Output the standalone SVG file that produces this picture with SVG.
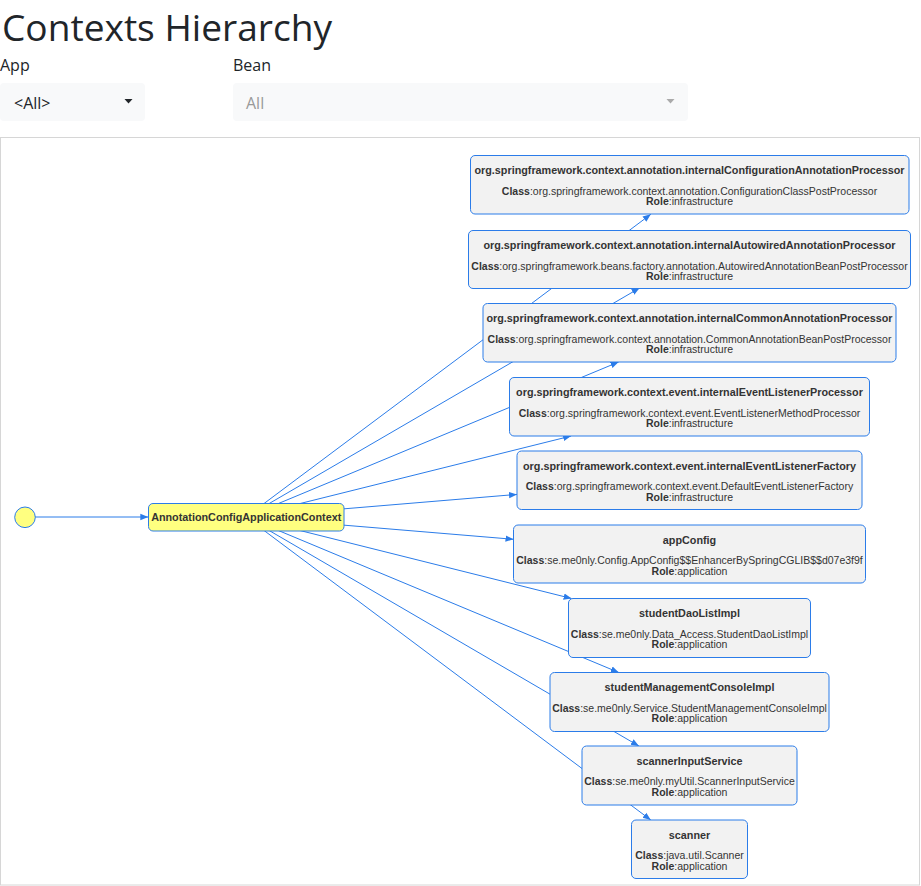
<svg xmlns="http://www.w3.org/2000/svg" width="921" height="886" viewBox="0 0 921 886">
<defs>
<style>
.hdr{font-family:"Open Sans","Noto Sans","Liberation Sans",sans-serif;fill:#212529}
.sel{fill:#f8f9fa;stroke:none}
.node rect{fill:#f2f2f2;stroke:#2b7ce9;stroke-width:1}
.root rect,.root circle{fill:#ffff80;stroke:#2b7ce9;stroke-width:1}
.t{font-family:"Liberation Sans",Arial,sans-serif;font-size:10.8px;font-weight:bold;fill:#343434;text-anchor:middle}
.c{font-family:"Liberation Sans",Arial,sans-serif;font-size:10.5px;fill:#343434;text-anchor:middle}
.c tspan.b{font-weight:bold}
#edges line{stroke:#2b7ce9;stroke-width:1;marker-end:url(#arr)}
</style>
<marker id="arr" markerUnits="userSpaceOnUse" markerWidth="10" markerHeight="8" refX="8" refY="4" orient="auto">
<path d="M0,0.8 L8,4 L0,7.2 z" fill="#2b7ce9"/>
</marker>
</defs>
<rect width="921" height="886" fill="#ffffff"/>

<g id="header">
<text class="hdr" x="2" y="41" font-size="37" textLength="330" lengthAdjust="spacingAndGlyphs">Contexts Hierarchy</text>
<text class="hdr" x="0" y="71" font-size="16">App</text>
<text class="hdr" x="233" y="71" font-size="16">Bean</text>
<rect class="sel" x="0" y="83" width="145" height="38" rx="4"/>
<text class="hdr" x="14" y="109" font-size="16">&lt;All&gt;</text>
<path d="M124.5,99 L132.5,99 L128.5,103.5 z" fill="#212529"/>
<rect class="sel" x="233" y="83" width="455" height="38" rx="4"/>
<text class="hdr" x="246" y="109" font-size="16" style="fill:#999999">All</text>
<path d="M666.5,99 L674.5,99 L670.5,103.5 z" fill="#aaaaaa"/>
</g>

<rect x="0.5" y="137.5" width="919" height="747.5" fill="none" stroke="#d6d6d6" stroke-width="1"/>

<g id="edges">
<line x1="25" y1="517" x2="148.3" y2="517"/>
<line x1="246" y1="517" x2="650.8" y2="214.3"/>
<line x1="246" y1="517" x2="639.6" y2="288"/>
<line x1="246" y1="517" x2="618.6" y2="362"/>
<line x1="246" y1="517" x2="571.1" y2="436"/>
<line x1="246" y1="517" x2="517" y2="494.4"/>
<line x1="246" y1="517" x2="513.5" y2="539.3"/>
<line x1="246" y1="517" x2="571.6" y2="598.5"/>
<line x1="246" y1="517" x2="618.8" y2="672.5"/>
<line x1="246" y1="517" x2="638.9" y2="746"/>
<line x1="246" y1="517" x2="650.8" y2="820"/>
</g>

<g id="start" class="root"><circle cx="25" cy="517.3" r="10.3"/></g>
<g id="ctx" class="root">
<rect x="148.5" y="503.5" width="195.5" height="27.5" rx="4.5"/>
<text class="t" x="246.2" y="521" font-size="10.8">AnnotationConfigApplicationContext</text>
</g>

<g id="n1" class="node">
<rect x="470.5" y="155.5" width="438.5" height="58.5" rx="4.5"/>
<text class="t" x="689.5" y="174">org.springframework.context.annotation.internalConfigurationAnnotationProcessor</text>
<text class="c" x="689.5" y="194.5"><tspan class="b">Class</tspan>:org.springframework.context.annotation.ConfigurationClassPostProcessor</text>
<text class="c" x="689.5" y="205"><tspan class="b">Role</tspan>:infrastructure</text>
</g>
<g id="n2" class="node">
<rect x="468.5" y="230.5" width="442" height="58" rx="4.5"/>
<text class="t" x="689.5" y="248.8">org.springframework.context.annotation.internalAutowiredAnnotationProcessor</text>
<text class="c" x="689.5" y="269.5"><tspan class="b">Class</tspan>:org.springframework.beans.factory.annotation.AutowiredAnnotationBeanPostProcessor</text>
<text class="c" x="689.5" y="280"><tspan class="b">Role</tspan>:infrastructure</text>
</g>
<g id="n3" class="node">
<rect x="483" y="303.5" width="413" height="58.5" rx="4.5"/>
<text class="t" x="689.5" y="322">org.springframework.context.annotation.internalCommonAnnotationProcessor</text>
<text class="c" x="689.5" y="342.5"><tspan class="b">Class</tspan>:org.springframework.context.annotation.CommonAnnotationBeanPostProcessor</text>
<text class="c" x="689.5" y="353"><tspan class="b">Role</tspan>:infrastructure</text>
</g>
<g id="n4" class="node">
<rect x="509.5" y="377.5" width="360" height="58.5" rx="4.5"/>
<text class="t" x="689.5" y="396">org.springframework.context.event.internalEventListenerProcessor</text>
<text class="c" x="689.5" y="416.5"><tspan class="b">Class</tspan>:org.springframework.context.event.EventListenerMethodProcessor</text>
<text class="c" x="689.5" y="427"><tspan class="b">Role</tspan>:infrastructure</text>
</g>
<g id="n5" class="node">
<rect x="517" y="451" width="345" height="58.5" rx="4.5"/>
<text class="t" x="689.5" y="469.5">org.springframework.context.event.internalEventListenerFactory</text>
<text class="c" x="689.5" y="490"><tspan class="b">Class</tspan>:org.springframework.context.event.DefaultEventListenerFactory</text>
<text class="c" x="689.5" y="500.5"><tspan class="b">Role</tspan>:infrastructure</text>
</g>
<g id="n6" class="node">
<rect x="513.5" y="525" width="352" height="58" rx="4.5"/>
<text class="t" x="689.5" y="543.5">appConfig</text>
<text class="c" x="689.5" y="564"><tspan class="b">Class</tspan>:se.me0nly.Config.AppConfig$$EnhancerBySpringCGLIB$$d07e3f9f</text>
<text class="c" x="689.5" y="574.5"><tspan class="b">Role</tspan>:application</text>
</g>
<g id="n7" class="node">
<rect x="568.5" y="598.5" width="242" height="59" rx="4.5"/>
<text class="t" x="689.5" y="617">studentDaoListImpl</text>
<text class="c" x="689.5" y="637.5"><tspan class="b">Class</tspan>:se.me0nly.Data_Access.StudentDaoListImpl</text>
<text class="c" x="689.5" y="648"><tspan class="b">Role</tspan>:application</text>
</g>
<g id="n8" class="node">
<rect x="550" y="672.5" width="279" height="59" rx="4.5"/>
<text class="t" x="689.5" y="691">studentManagementConsoleImpl</text>
<text class="c" x="689.5" y="711.5"><tspan class="b">Class</tspan>:se.me0nly.Service.StudentManagementConsoleImpl</text>
<text class="c" x="689.5" y="722"><tspan class="b">Role</tspan>:application</text>
</g>
<g id="n9" class="node">
<rect x="582" y="746" width="215" height="59" rx="4.5"/>
<text class="t" x="689.5" y="764.5">scannerInputService</text>
<text class="c" x="689.5" y="785"><tspan class="b">Class</tspan>:se.me0nly.myUtil.ScannerInputService</text>
<text class="c" x="689.5" y="795.5"><tspan class="b">Role</tspan>:application</text>
</g>
<g id="n10" class="node">
<rect x="631.5" y="820" width="116" height="58.5" rx="4.5"/>
<text class="t" x="689.5" y="838.5">scanner</text>
<text class="c" x="689.5" y="859"><tspan class="b">Class</tspan>:java.util.Scanner</text>
<text class="c" x="689.5" y="869.5"><tspan class="b">Role</tspan>:application</text>
</g>
</svg>
